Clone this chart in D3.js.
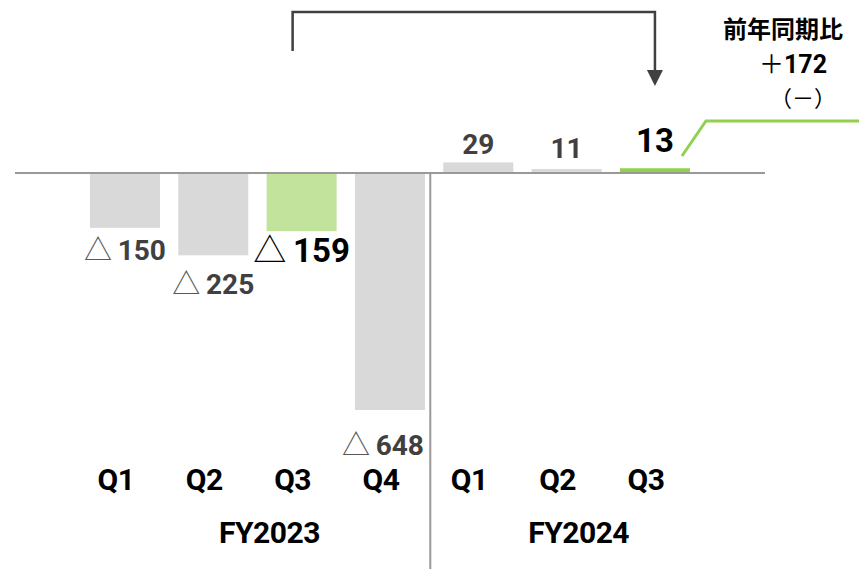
<!DOCTYPE html>
<html>
<head>
<meta charset="utf-8">
<script src="https://cdn.jsdelivr.net/npm/d3@7"></script>
<style>
	body { margin: 0; background: #fff; }
	svg { display: block; }
</style>
</head>
<body>
<script>
'use strict';

// chart values
const quarters = ["Q1", "Q2", "Q3", "Q4", "Q1", "Q2", "Q3"];
const fiscalYears = ["FY2023", "FY2023", "FY2023", "FY2023", "FY2024", "FY2024", "FY2024"];
const values = [-150, -225, -159, -648, 29, 11, 13];
const currentQuarter = "Q3";
const yoyTitle = "前年同期比";
const yoySign = "＋";
const yoyValue = "172";
const yoyNote = "（－）";

// hand placed label nudges (like the slide)
const labelDx = [0, 0, 0, -7, 0, 0, 0];
const labelDy = [22, 29, 19, 35, -18, -21, -28];

const params = {
	width: 859,
	height: 569,
	zeroY: 173,
	minY: 410
};

const svg = d3.select("body").append("svg")
	.attr("width", params.width)
	.attr("height", params.height);

const idx = d3.range(values.length);

const xScale = d3.scaleBand()
	.domain(idx)
	.range([80.8, 80.8 + 88.33 * values.length])
	.paddingInner(0.2075)
	.paddingOuter(0.1037);

const yScale = d3.scaleLinear()
	.domain([d3.min(values), 0])
	.range([params.minY, params.zeroY]);

const isCurrent = i => quarters[i] === currentQuarter;
const barColor = i => {
	if (!isCurrent(i)) return "#d9d9d9";
	return fiscalYears[i] === "FY2023" ? "#c1e39b" : "#92d050";
};

// bars
svg.append("g")
	.selectAll("rect")
	.data(idx)
	.join("rect")
	.attr("x", i => xScale(i))
	.attr("width", xScale.bandwidth())
	.attr("y", i => yScale(Math.max(0, values[i])))
	.attr("height", i => Math.abs(yScale(values[i]) - yScale(0)))
	.attr("fill", barColor);

// zero line
svg.append("line")
	.attr("x1", 15).attr("x2", 765)
	.attr("y1", yScale(0)).attr("y2", yScale(0))
	.attr("stroke", "#999").attr("stroke-width", 2);

// year divider
const divX = xScale(4) - 13;
svg.append("line")
	.attr("x1", divX).attr("x2", divX)
	.attr("y1", yScale(0)).attr("y2", params.height)
	.attr("stroke", "#999").attr("stroke-width", 2);

// value labels
const labels = svg.append("g")
	.selectAll("text")
	.data(idx)
	.join("text")
	.attr("x", i => xScale(i) + xScale.bandwidth() / 2 + labelDx[i])
	.attr("y", i => yScale(values[i]) + labelDy[i])
	.attr("dy", "0.36em")
	.attr("text-anchor", "middle")
	.attr("font-family", "Roboto, 'Liberation Sans', sans-serif")
	.attr("font-weight", "bold")
	.attr("font-size", i => isCurrent(i) ? 33 : 28)
	.attr("fill", i => isCurrent(i) ? "#000" : "#404040");

labels.filter(i => values[i] < 0).append("tspan")
	.attr("font-family", "'Noto Sans CJK JP', sans-serif")
	.attr("font-weight", "normal")
	.attr("fill", i => isCurrent(i) ? "#000" : "#595959")
	.text("△");
labels.append("tspan")
	.text(i => (values[i] < 0 ? "\u2009" : "") + Math.abs(values[i]));

// quarter axis (labels sit a little left of the bars, as in the slide)
const axis = svg.append("g")
	.attr("transform", "translate(-9,466)")
	.call(d3.axisBottom(xScale).tickSize(0).tickFormat(i => quarters[i]));
axis.select(".domain").remove();
axis.selectAll("text")
	.attr("font-family", "Roboto, sans-serif")
	.attr("font-weight", "bold")
	.attr("font-size", 30)
	.attr("letter-spacing", -0.5)
	.attr("fill", "#000");

// fiscal year labels
const years = Array.from(d3.group(idx, i => fiscalYears[i]));
svg.append("g")
	.selectAll("text")
	.data(years)
	.join("text")
	.attr("x", d => d3.mean(d[1], i => xScale(i) + xScale.bandwidth() / 2) + 12)
	.attr("y", 543)
	.attr("text-anchor", "middle")
	.attr("font-family", "Roboto, sans-serif")
	.attr("font-weight", "bold")
	.attr("font-size", 30)
	.attr("letter-spacing", -0.5)
	.attr("fill", "#000")
	.text(d => d[0]);

// bracket arrow from FY2023 Q3 to FY2024 Q3
const fromX = xScale(2) + xScale.bandwidth() / 2 - 9;
const toX = xScale(6) + xScale.bandwidth() / 2;
svg.append("path")
	.attr("d", `M${fromX},51 V12 H${toX} V72`)
	.attr("fill", "none")
	.attr("stroke", "#404040")
	.attr("stroke-width", 2.5);
svg.append("path")
	.attr("d", `M${toX - 8},70 L${toX + 8},70 L${toX},86 Z`)
	.attr("fill", "#404040");

// green leader line
const barRight = xScale(6) + xScale.bandwidth();
svg.append("path")
	.attr("d", `M${barRight - 8},156 L${barRight + 16},121 H${params.width}`)
	.attr("fill", "none")
	.attr("stroke", "#92d050")
	.attr("stroke-width", 3);

// yoy text
const yoy = svg.append("g")
	.attr("font-family", "'Noto Sans CJK JP', sans-serif")
	.attr("text-anchor", "end");
yoy.append("text")
	.attr("x", 843).attr("y", 38)
	.attr("font-size", 24).attr("font-weight", "bold")
	.attr("fill", "#000")
	.text(yoyTitle);
const yoyLine = yoy.append("text")
	.attr("x", 827).attr("y", 73)
	.attr("font-size", 25)
	.attr("fill", "#000");
yoyLine.append("tspan").attr("font-weight", "normal").text(yoySign);
yoyLine.append("tspan")
	.attr("font-family", "Roboto, sans-serif")
	.attr("font-weight", "bold")
	.text(yoyValue);
yoy.append("text")
	.attr("x", 836).attr("y", 106)
	.attr("font-size", 22)
	.attr("fill", "#000")
	.text(yoyNote);
</script>
</body>
</html>
